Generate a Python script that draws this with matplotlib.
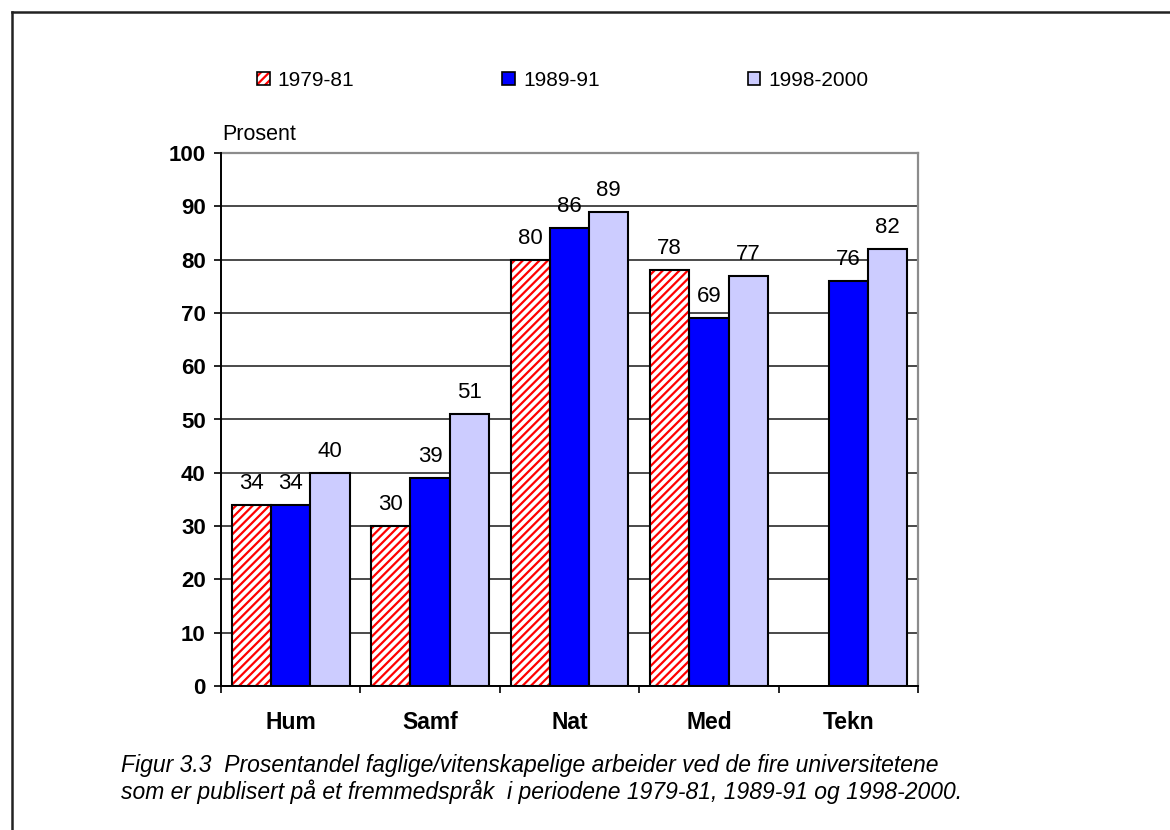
import numpy as np
import matplotlib
matplotlib.use("Agg")
import matplotlib.pyplot as plt
from matplotlib.patches import Patch
from matplotlib.legend_handler import HandlerTuple
from matplotlib.lines import Line2D

plt.rcParams['font.family'] = ['Liberation Sans', 'DejaVu Sans']
plt.rcParams['hatch.linewidth'] = 1.6

fields = ['Hum', 'Samf', 'Nat', 'Med', 'Tekn']
periods = ['1979-81', '1989-91', '1998-2000']
share_1979 = [34, 30, 80, 78, np.nan]   # no Tekn figure for 1979-81
share_1989 = [34, 39, 86, 69, 76]
share_1998 = [40, 51, 89, 77, 82]

caption = ("Figur 3.3  Prosentandel faglige/vitenskapelige arbeider ved de fire universitetene\n"
           "som er publisert på et fremmedspråk  i periodene 1979-81, 1989-91 og 1998-2000.")

fig = plt.figure(figsize=(11.7, 8.3), dpi=100)
ax = fig.add_axes([221 / 1170, 1 - 686 / 830, 697 / 1170, 533 / 830])

x = np.arange(len(fields))
w = 0.282
edge = dict(edgecolor='black', linewidth=1.5)

# hatched red series: hatch layer first, black outline on top
ax.bar(x - w, share_1979, w, color='white', edgecolor='#ff0000',
       hatch='////', linewidth=0, zorder=3)
ax.bar(x - w, share_1979, w, fill=False, zorder=4, **edge)
ax.bar(x, share_1989, w, color='#0000ff', zorder=3, **edge)
ax.bar(x + w, share_1998, w, color='#ccccff', zorder=3, **edge)

for offs, vals in [(-w, share_1979), (0, share_1989), (w, share_1998)]:
    for xi, v in zip(x, vals):
        if np.isnan(v):
            continue
        ax.annotate(f'{v:g}', (xi + offs, v), xytext=(0, 11.5), textcoords='offset points',
                    ha='center', va='baseline', fontsize=16)

ax.set_xlim(-0.5, 4.5)
ax.set_ylim(0, 100)
ax.set_yticks(range(0, 101, 10))
ax.set_yticklabels([str(t) for t in range(0, 101, 10)], fontweight='bold', fontsize=16)
ax.tick_params(axis='y', direction='out', length=5, width=1.2, pad=6)

# category ticks sit between groups, labels in the middle
ax.set_xticks(np.arange(-0.5, 5, 1))
ax.set_xticklabels([])
ax.set_xticks(x, minor=True)
ax.set_xticklabels(fields, minor=True, fontweight='bold', fontsize=16.5)
ax.tick_params(axis='x', which='major', direction='out', length=5, width=1.2)
ax.tick_params(axis='x', which='minor', length=0, pad=18)

ax.grid(axis='y', color='#4a4a4a', linewidth=1.4, zorder=0)
ax.set_axisbelow(True)
for side in ['left', 'bottom']:
    ax.spines[side].set_color('black')
    ax.spines[side].set_linewidth(1.4)
    ax.spines[side].set_zorder(5)
for side in ['top', 'right']:
    ax.spines[side].set_color('#8c8c8c')
    ax.spines[side].set_linewidth(1.6)

fig.text(222 / 1170, 1 - 135 / 830, 'Prosent', fontsize=15.5, va='center', ha='left')

red_handle = (Patch(facecolor='white', edgecolor='#ff0000', hatch='////', linewidth=0),
              Patch(fill=False, edgecolor='black', linewidth=1.2))
handles = [red_handle,
           Patch(facecolor='#0000ff', edgecolor='black', linewidth=1.2),
           Patch(facecolor='#ccccff', edgecolor='black', linewidth=1.2)]
fig.legend(handles, periods, loc='center left', bbox_to_anchor=(257 / 1170, 1 - 80 / 830),
           ncol=3, frameon=False, fontsize=15, handlelength=0.6, handleheight=0.6,
           handletextpad=0.4, columnspacing=7.1, borderpad=0, borderaxespad=0,
           handler_map={tuple: HandlerTuple(ndivide=1)})

fig.text(121 / 1170, 1 - 779 / 830, caption, fontsize=16.5, style='italic',
         va='center', ha='left', linespacing=1.12)

# outer frame, open to the right and bottom
fig.add_artist(Line2D([11.5 / 1170, 11.5 / 1170], [0, 1 - 12 / 830], color='#222222',
                      linewidth=1.8, transform=fig.transFigure))
fig.add_artist(Line2D([11.5 / 1170, 1], [1 - 12 / 830, 1 - 12 / 830], color='#222222',
                      linewidth=1.8, transform=fig.transFigure))

fig.savefig('out.png', dpi=100)
